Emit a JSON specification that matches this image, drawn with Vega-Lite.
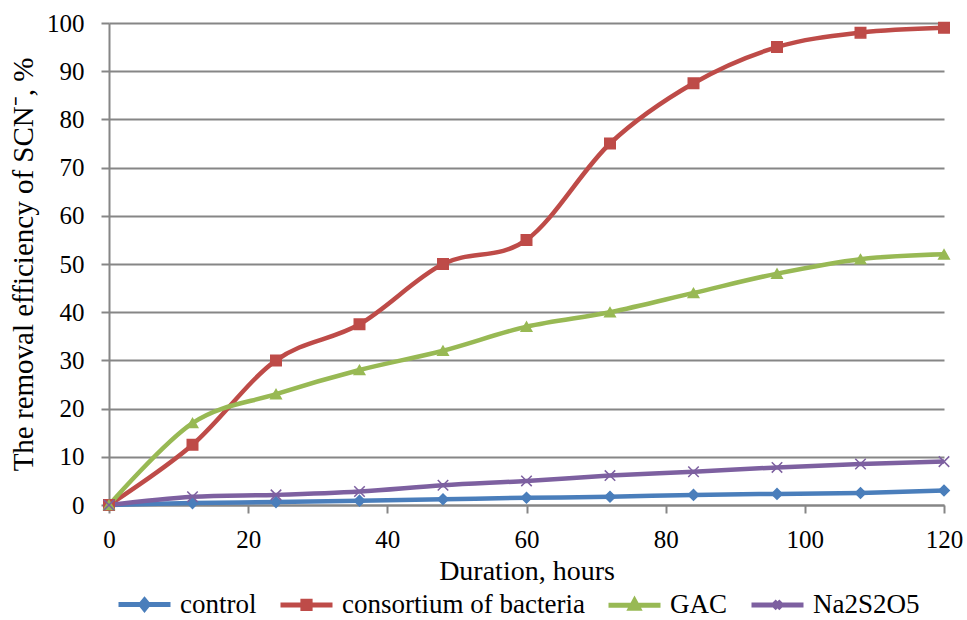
{
  "$schema": "https://vega.github.io/schema/vega-lite/v6.json",
  "width": 835,
  "height": 482,
  "autosize": {"type": "none"},
  "padding": {"left": 109, "top": 23, "right": 23, "bottom": 115},
  "background": "white",
  "config": {
    "font": "Liberation Serif",
    "view": {"stroke": null}
  },
  "data": {
    "values": [
      {"t": 0, "series": "control", "v": 0},
      {"t": 12, "series": "control", "v": 0.4},
      {"t": 24, "series": "control", "v": 0.6},
      {"t": 36, "series": "control", "v": 0.9},
      {"t": 48, "series": "control", "v": 1.2},
      {"t": 60, "series": "control", "v": 1.5},
      {"t": 72, "series": "control", "v": 1.7},
      {"t": 84, "series": "control", "v": 2.1},
      {"t": 96, "series": "control", "v": 2.3},
      {"t": 108, "series": "control", "v": 2.5},
      {"t": 120, "series": "control", "v": 3.0},
      {"t": 0, "series": "consortium of bacteria", "v": 0},
      {"t": 12, "series": "consortium of bacteria", "v": 12.5},
      {"t": 24, "series": "consortium of bacteria", "v": 30},
      {"t": 36, "series": "consortium of bacteria", "v": 37.5},
      {"t": 48, "series": "consortium of bacteria", "v": 50},
      {"t": 60, "series": "consortium of bacteria", "v": 55},
      {"t": 72, "series": "consortium of bacteria", "v": 75},
      {"t": 84, "series": "consortium of bacteria", "v": 87.5},
      {"t": 96, "series": "consortium of bacteria", "v": 95},
      {"t": 108, "series": "consortium of bacteria", "v": 98},
      {"t": 120, "series": "consortium of bacteria", "v": 99},
      {"t": 0, "series": "GAC", "v": 0},
      {"t": 12, "series": "GAC", "v": 17},
      {"t": 24, "series": "GAC", "v": 23},
      {"t": 36, "series": "GAC", "v": 28},
      {"t": 48, "series": "GAC", "v": 32},
      {"t": 60, "series": "GAC", "v": 37},
      {"t": 72, "series": "GAC", "v": 40},
      {"t": 84, "series": "GAC", "v": 44},
      {"t": 96, "series": "GAC", "v": 48},
      {"t": 108, "series": "GAC", "v": 51},
      {"t": 120, "series": "GAC", "v": 52},
      {"t": 0, "series": "Na2S2O5", "v": 0},
      {"t": 12, "series": "Na2S2O5", "v": 1.7},
      {"t": 24, "series": "Na2S2O5", "v": 2.1},
      {"t": 36, "series": "Na2S2O5", "v": 2.8},
      {"t": 48, "series": "Na2S2O5", "v": 4.1},
      {"t": 60, "series": "Na2S2O5", "v": 5.0},
      {"t": 72, "series": "Na2S2O5", "v": 6.1},
      {"t": 84, "series": "Na2S2O5", "v": 6.9},
      {"t": 96, "series": "Na2S2O5", "v": 7.8},
      {"t": 108, "series": "Na2S2O5", "v": 8.5},
      {"t": 120, "series": "Na2S2O5", "v": 9.0}
    ]
  },
  "encoding": {
    "x": {
      "field": "t",
      "type": "quantitative",
      "scale": {"domain": [0, 120], "nice": false},
      "axis": {
        "values": [0, 20, 40, 60, 80, 100, 120],
        "title": "Duration, hours",
        "grid": false,
        "tickSize": 8,
        "tickWidth": 2,
        "tickColor": "#868686",
        "domainColor": "#868686",
        "domainWidth": 2,
        "labelFlush": false,
        "labelFont": "Liberation Serif",
        "labelFontSize": 25,
        "labelColor": "black",
        "labelPadding": 14,
        "titleFont": "Liberation Serif",
        "titleFontSize": 28,
        "titleFontWeight": "normal",
        "titleColor": "black",
        "titlePadding": 5
      }
    },
    "y": {
      "field": "v",
      "type": "quantitative",
      "scale": {"domain": [0, 100], "nice": false},
      "axis": {
        "values": [0, 10, 20, 30, 40, 50, 60, 70, 80, 90, 100],
        "title": "The removal efficiency of SCN⁻, %",
        "grid": true,
        "gridColor": "#868686",
        "gridWidth": 2,
        "tickSize": 8,
        "tickWidth": 2,
        "tickColor": "#868686",
        "domainColor": "#868686",
        "domainWidth": 2,
        "labelFlush": false,
        "labelFont": "Liberation Serif",
        "labelFontSize": 25,
        "labelColor": "black",
        "labelPadding": 17,
        "titleFont": "Liberation Serif",
        "titleFontSize": 29,
        "titleFontWeight": "normal",
        "titleColor": "black",
        "titlePadding": 8
      }
    }
  },
  "layer": [
    {
      "mark": {"type": "line", "interpolate": "cardinal", "strokeWidth": 4.5},
      "encoding": {
        "color": {
          "field": "series",
          "type": "nominal",
          "scale": {
            "domain": ["control", "consortium of bacteria", "GAC", "Na2S2O5"],
            "range": ["#4A7EBB", "#BE4B48", "#98B954", "#7D60A0"]
          },
          "legend": null
        }
      }
    },
    {
      "mark": {"type": "point", "filled": true, "size": 110, "strokeWidth": 1.5, "opacity": 1},
      "encoding": {
        "color": {
          "field": "series",
          "type": "nominal",
          "scale": {
            "domain": ["control", "consortium of bacteria", "GAC", "Na2S2O5"],
            "range": ["#4A7EBB", "#BE4B48", "#98B954", "#7D60A0"]
          },
          "legend": null
        },
        "stroke": {
          "field": "series",
          "type": "nominal",
          "scale": {
            "domain": ["control", "consortium of bacteria", "GAC", "Na2S2O5"],
            "range": ["#4A7EBB", "#BE4B48", "#98B954", "#7D60A0"]
          },
          "legend": null
        },
        "shape": {
          "field": "series",
          "type": "nominal",
          "scale": {
            "domain": ["control", "consortium of bacteria", "GAC", "Na2S2O5"],
            "range": ["diamond", "square", "triangle-up", "M-1,-1L1,1M-1,1L1,-1"]
          },
          "legend": null
        }
      }
    },
    {
      "transform": [{"filter": "datum.t < 0"}],
      "mark": {"type": "point", "filled": true, "size": 64, "opacity": 1},
      "encoding": {
        "color": {
          "field": "series",
          "type": "nominal",
          "scale": {
            "domain": ["control", "consortium of bacteria", "GAC", "Na2S2O5"],
            "range": ["#4A7EBB", "#BE4B48", "#98B954", "#7D60A0"]
          },
          "legend": {
            "title": null,
            "orient": "none",
            "direction": "horizontal",
            "legendX": 22,
            "legendY": 568,
            "symbolSize": 64,
            "symbolStrokeWidth": 5,
            "labelOffset": 22,
            "columnPadding": 13,
            "symbolOpacity": 1,
            "labelFont": "Liberation Serif",
            "labelFontSize": 27,
            "labelColor": "black",
            "labelLimit": 400
          }
        },
        "stroke": {
          "field": "series",
          "type": "nominal",
          "scale": {
            "domain": ["control", "consortium of bacteria", "GAC", "Na2S2O5"],
            "range": ["#4A7EBB", "#BE4B48", "#98B954", "#7D60A0"]
          }
        },
        "shape": {
          "field": "series",
          "type": "nominal",
          "scale": {
            "domain": ["control", "consortium of bacteria", "GAC", "Na2S2O5"],
            "range": [
              "M-6.5,0H6.5M0,-1.1L0.9,0L0,1.1L-0.9,0Z",
              "M-6.5,0H6.5M-0.9,-0.9H0.9V0.9H-0.9Z",
              "M-6.5,0H6.5M0,-1.1L1,0.8H-1Z",
              "M-6.5,0H6.5M-0.9,-0.9L0.9,0.9M-0.9,0.9L0.9,-0.9"
            ]
          }
        }
      }
    }
  ],
  "resolve": {"scale": {"color": "independent", "shape": "independent", "stroke": "independent"}}
}
